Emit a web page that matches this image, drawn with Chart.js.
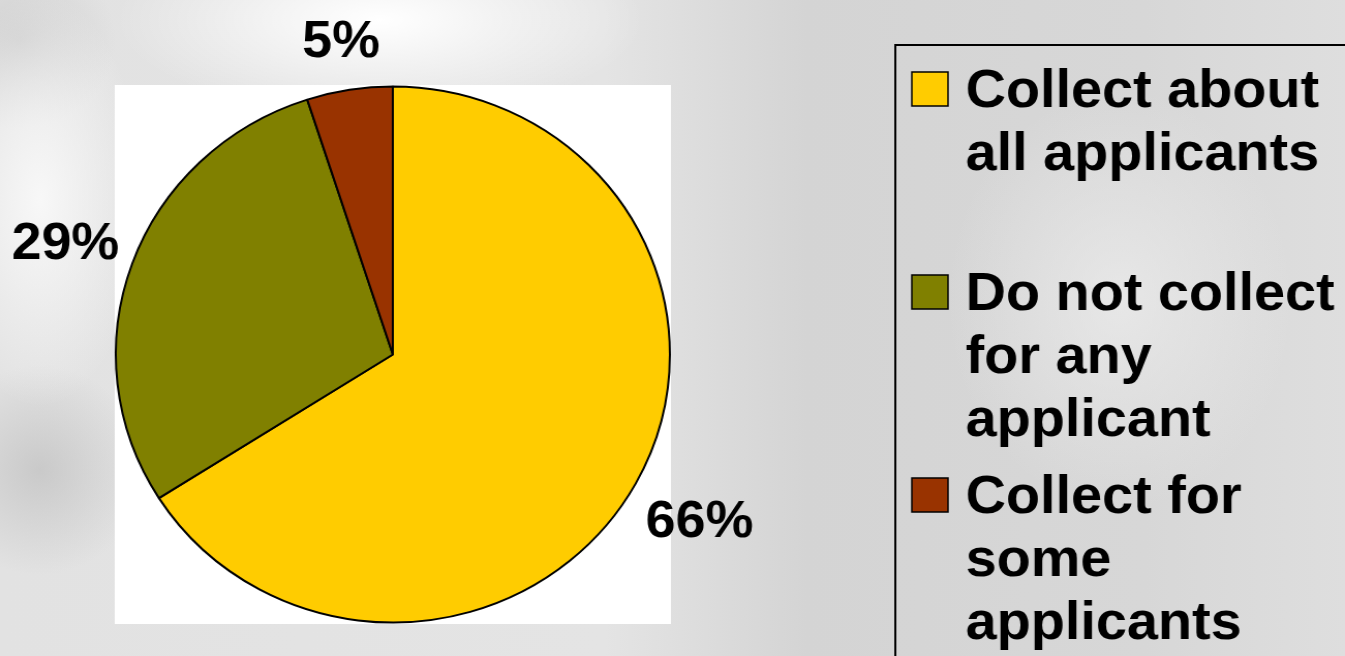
<!DOCTYPE html>
<html>
<head>
<meta charset="utf-8">
<script src="https://cdn.jsdelivr.net/npm/chart.js@4.4.1/dist/chart.umd.min.js"></script>
<style>
  html, body { margin: 0; padding: 0; }
  body {
    width: 1345px;
    height: 656px;
    overflow: hidden;
    background:
      radial-gradient(ellipse 330px 120px at 380px 20px, rgba(255,255,255,1), rgba(255,255,255,0) 80%),
      radial-gradient(ellipse 130px 260px at 40px 200px, rgba(250,250,250,0.9), rgba(255,255,255,0) 80%),
      radial-gradient(ellipse 120px 110px at 20px 40px, rgba(200,200,200,0.7), rgba(200,200,200,0) 80%),
      radial-gradient(ellipse 140px 140px at 40px 470px, rgba(185,185,185,0.6), rgba(185,185,185,0) 75%),
      radial-gradient(ellipse 230px 280px at 1120px 300px, rgba(238,238,238,0.7), rgba(238,238,238,0) 75%),
      linear-gradient(90deg, #e2e2e2 0%, #e4e4e4 45%, #d4d4d4 60%, #d7d7d7 85%, #dedede 100%);
  }
  #wrap { position: absolute; left: 0; top: 0; width: 1345px; height: 656px; }
  #pie { display: block; width: 1345px; height: 656px; }
</style>
</head>
<body>
<div id="wrap"><canvas id="pie" width="1301" height="656" style="width:1345px;height:656px"></canvas></div>
<script>
// data
const categories = ["Collect about all applicants", "Do not collect for any applicant", "Collect for some applicants"];
const legendLines = [["Collect about", "all applicants"], ["Do not collect", "for any", "applicant"], ["Collect for", "some", "applicants"]];
const shares = [66, 29, 5];
const sliceColors = ["#FFCC00", "#808000", "#993300"];

// the original slide is a little wider than tall, so the canvas is drawn
// narrower and stretched by css (1301 -> 1345)
const labelFont = 'bold 52px "Liberation Sans", Arial, sans-serif';
const legendFont = 'bold 54px "Liberation Sans", Arial, sans-serif';

// white plot area behind the pie
const plotBackground = {
  id: "plotBackground",
  beforeDraw(chart) {
    const a = chart.chartArea;
    const ctx = chart.ctx;
    ctx.save();
    ctx.fillStyle = "#ffffff";
    ctx.fillRect(a.left, a.top, a.right - a.left, a.bottom - a.top);
    ctx.restore();
  }
};

// percentage labels outside each slice
const outsideLabels = {
  id: "outsideLabels",
  afterDatasetsDraw(chart) {
    const ctx = chart.ctx;
    const meta = chart.getDatasetMeta(0);
    ctx.save();
    ctx.font = labelFont;
    ctx.fillStyle = "#000";
    ctx.textAlign = "center";
    ctx.textBaseline = "alphabetic";
    meta.data.forEach((arc, i) => {
      const p = arc.getProps(["x", "y", "startAngle", "endAngle", "outerRadius"], true);
      const mid = (p.startAngle + p.endAngle) / 2;
      const text = chart.data.datasets[0].data[i] + "%";
      const w = ctx.measureText(text).width;
      const h = 38;
      const c = Math.cos(mid), s = Math.sin(mid);
      const dist = p.outerRadius + 0.45 * Math.abs(w * c) + 0.9 * Math.abs(h * s) + 13;
      ctx.fillText(text, p.x + dist * c, p.y + dist * s + h / 2);
    });
    ctx.restore();
  }
};

// boxed legend on the right, running off the page
const boxLegend = {
  id: "boxLegend",
  afterDraw(chart) {
    const ctx = chart.ctx;
    const ds = chart.data.datasets[0];
    ctx.save();
    ctx.strokeStyle = "#000";
    ctx.lineWidth = 2;
    ctx.beginPath();
    ctx.moveTo(1320, 45);
    ctx.lineTo(866, 45);
    ctx.lineTo(866, 670);
    ctx.stroke();

    ctx.font = legendFont;
    ctx.textAlign = "left";
    ctx.textBaseline = "alphabetic";
    for (let i = 0; i < legendLines.length; i++) {
      const base = 107 + i * 203;
      ctx.fillStyle = ds.backgroundColor[i];
      ctx.fillRect(882, base - 35, 35, 34);
      ctx.lineWidth = 1.5;
      ctx.strokeRect(882, base - 35, 35, 34);
      ctx.fillStyle = "#000";
      legendLines[i].forEach((line, j) => {
        ctx.fillText(line, 934, base + j * 63);
      });
    }
    ctx.restore();
  }
};

new Chart("pie", {
  type: "pie",
  data: {
    labels: categories,
    datasets: [{
      data: shares,
      backgroundColor: sliceColors,
      borderColor: "#000000",
      borderWidth: 2,
      hoverOffset: 0
    }]
  },
  options: {
    responsive: false,
    animation: false,
    events: [],
    layout: {
      padding: { left: 111, right: 652, top: 85, bottom: 32 }
    },
    plugins: {
      legend: { display: false },
      tooltip: { enabled: false },
      title: { display: false }
    }
  },
  plugins: [plotBackground, outsideLabels, boxLegend]
});
</script>
</body>
</html>
